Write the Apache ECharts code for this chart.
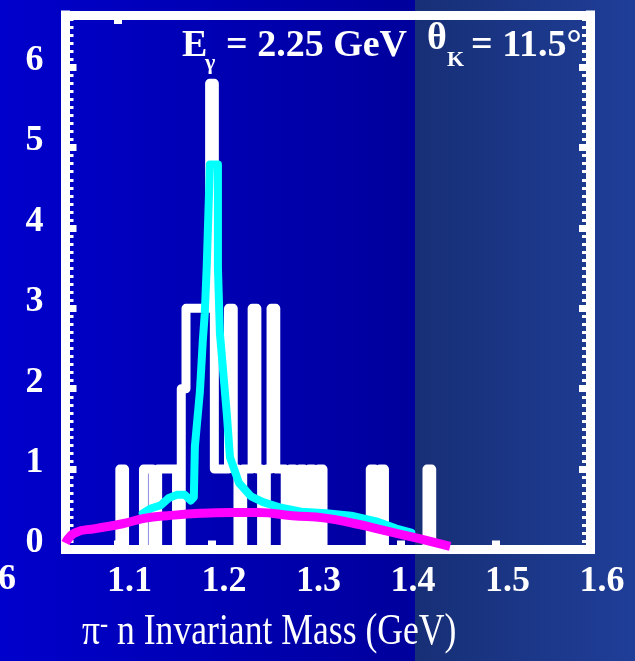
<!DOCTYPE html>
<html>
<head>
<meta charset="utf-8">
<script src="https://cdn.jsdelivr.net/npm/echarts@6.0.0/dist/echarts.min.js"></script>
<style>
  html, body { margin: 0; padding: 0; background: #0000b0; }
  #chart { width: 635px; height: 661px; }
</style>
</head>
<body>
<div id="chart"></div>
<script>
// x tick labels (GeV)
const xTicks = [1.1, 1.2, 1.3, 1.4, 1.5, 1.6];
const xTopTicks = [1.1];

// white data histogram, 5 MeV bins starting at histStart
const histStart = 1.0475;
const histBinWidth = 0.005;
const histCounts = [
  0, 0, 0, 0, 0, 0, 0, 0, 0, 0, 0,   // 1.0475 - 1.1025
  1,                                 // 1.1025
  0, 0, 0, 0,
  1, 1, 0, 1, 1, 1, 1, 0,            // 1.1275 - 1.1625
  2, 3, 3, 3, 3, 3,                  // 1.1675 - 1.1925
  5.8,                               // 1.1975
  1, 1, 1, 3, 1, 0, 1, 1, 3, 1, 0, 1, 3,
  1, 1, 0, 1, 0, 1, 0, 1, 0, 1,      // 1.2675 - 1.3125
  0, 0, 0, 0, 0, 0, 0, 0, 0, 0,
  1, 0, 1,                           // 1.3675 - 1.3775
  0, 0, 0, 0, 0, 0, 0, 0, 0,
  1,                                 // 1.4275
  0, 0, 0, 0
];

// cyan simulated line shape
const cyanMass  = [1.1267, 1.1352, 1.1458, 1.1543, 1.1628, 1.1713, 1.1776, 1.1808, 1.1819, 1.1872,
                   1.1903, 1.1924, 1.1945, 1.1978, 1.2063, 1.2063, 1.2084, 1.2158, 1.2190, 1.2285,
                   1.2413, 1.2540, 1.2731, 1.2943, 1.3208, 1.3473, 1.3738, 1.3950, 1.4109];
const cyanValue = [0.45, 0.51, 0.55, 0.64, 0.68, 0.68, 0.61, 0.65, 1.28, 1.96,
                   2.60, 2.94, 3.54, 4.79, 4.79, 3.50, 2.69, 1.67, 1.15, 0.83,
                   0.66, 0.59, 0.52, 0.47, 0.45, 0.42, 0.35, 0.26, 0.21];

// magenta phase-space curve
const magentaMass  = [1.045, 1.0556, 1.0767, 1.1053, 1.1296, 1.1529, 1.1878, 1.2195, 1.2491,
                      1.2851, 1.3200, 1.3517, 1.3707, 1.4066, 1.4278, 1.4520];
const magentaValue = [0.08, 0.21, 0.26, 0.32, 0.39, 0.42, 0.45, 0.46, 0.46,
                      0.42, 0.39, 0.32, 0.27, 0.17, 0.11, 0.04];

const serif = '"Liberation Serif", "DejaVu Serif", serif';

// build the outline of the histogram from the bin counts
const histPoints = [];
histCounts.forEach((c, k) => {
  const x0 = histStart + k * histBinWidth;
  histPoints.push([x0, c], [x0 + histBinWidth, c]);
});
const cyanPoints = cyanMass.map((m, i) => [m, cyanValue[i]]);
const magentaPoints = magentaMass.map((m, i) => [m, magentaValue[i]]);

const frameLine = { show: true, onZero: false, lineStyle: { color: '#fff', width: 9, cap: 'square' } };

const chart = echarts.init(document.getElementById('chart'));

const option = {
  animation: false,
  backgroundColor: 'transparent',
  grid: { left: 65.5, right: 45, top: 15, bottom: 111.5 },
  xAxis: [
    {
      type: 'value', position: 'bottom', min: 1.045, max: 1.6,
      axisLine: frameLine,
      axisTick: { show: true, inside: true, customValues: xTicks, length: 9, lineStyle: { color: '#fff', width: 8 } },
      axisLabel: {
        customValues: xTicks, color: '#fff', fontFamily: serif, fontWeight: 'bold', fontSize: 36,
        margin: 14, padding: [0, 0, 0, 24], formatter: v => v.toFixed(1)
      },
      splitLine: { show: false }
    },
    {
      type: 'value', position: 'top', min: 1.045, max: 1.6,
      axisLine: frameLine,
      axisTick: { show: true, inside: true, customValues: xTopTicks, length: 9, lineStyle: { color: '#fff', width: 8 } },
      axisLabel: { show: false }, splitLine: { show: false }
    }
  ],
  yAxis: [
    {
      type: 'value', position: 'left', min: 0, max: 6.65, interval: 1,
      axisLine: frameLine,
      axisTick: { show: true, inside: true, length: 11, lineStyle: { color: '#fff', width: 7 } },
      minorTick: { show: true, splitNumber: 10, length: 8, lineStyle: { color: '#fff', width: 3 } },
      axisLabel: {
        color: '#fff', fontFamily: serif, fontWeight: 'bold', fontSize: 36,
        margin: 22, showMaxLabel: false, verticalAlign: 'bottom', lineHeight: 13
      },
      splitLine: { show: false }
    },
    {
      type: 'value', position: 'right', min: 0, max: 6.65, interval: 1,
      axisLine: frameLine,
      axisTick: { show: true, inside: true, length: 11, lineStyle: { color: '#fff', width: 7 } },
      minorTick: { show: true, splitNumber: 10, length: 8, lineStyle: { color: '#fff', width: 3 } },
      axisLabel: { show: false },
      splitLine: { show: false }
    }
  ],
  series: [
    {
      name: 'data', type: 'line', data: histPoints, showSymbol: false, silent: true, z: 3,
      lineStyle: { color: '#ffffff', width: 9, join: 'round', cap: 'round' }
    },
    {
      name: 'sim', type: 'line', data: cyanPoints, showSymbol: false, silent: true, z: 4,
      lineStyle: { color: '#00ffff', width: 8, join: 'round', cap: 'round' }
    },
    {
      name: 'phase space', type: 'line', data: magentaPoints, showSymbol: false, silent: true, z: 5,
      smooth: true,
      lineStyle: { color: '#ff00ff', width: 9, join: 'round', cap: 'butt' }
    }
  ],
  graphic: {
    elements: [
      {
        type: 'rect', z: -100, silent: true,
        shape: { x: 0, y: 0, width: 635, height: 661 },
        style: {
          fill: new echarts.graphic.LinearGradient(0, 0, 1, 0, [
            { offset: 0, color: '#0000cc' },
            { offset: 0.653, color: '#00009c' },
            { offset: 0.654, color: '#172f76' },
            { offset: 1, color: '#1f3e98' }
          ])
        }
      },
      { type: 'text', x: 182, y: 46, style: { text: 'E', fill: '#fff', font: 'bold 38px ' + serif, verticalAlign: 'middle' } },
      { type: 'text', x: 205, y: 63, style: { text: 'γ', fill: '#fff', font: 'bold 22px ' + serif, verticalAlign: 'middle' } },
      { type: 'text', x: 226, y: 46, style: { text: '= 2.25 GeV', fill: '#fff', font: 'bold 38px ' + serif, verticalAlign: 'middle' } },
      { type: 'text', x: 427, y: 39, style: { text: 'θ', fill: '#fff', font: 'bold 38px ' + serif, verticalAlign: 'middle' } },
      { type: 'text', x: 447, y: 60, style: { text: 'K', fill: '#fff', font: 'bold 22px ' + serif, verticalAlign: 'middle' } },
      { type: 'text', x: 471, y: 46, style: { text: '= 11.5°', fill: '#fff', font: 'bold 38px ' + serif, verticalAlign: 'middle' } },
      { type: 'text', x: 16, y: 580, style: { text: '6', fill: '#fff', font: 'bold 36px ' + serif, align: 'right', verticalAlign: 'middle' } },
      {
        type: 'text', x: 82, y: 632, scaleX: 0.81,
        style: {
          text: '{a|π}{s|-}{a| n Invariant Mass (GeV)}',
          fill: '#fff', verticalAlign: 'middle',
          rich: {
            a: { fontFamily: serif, fontSize: 44, fill: '#fff' },
            s: { fontFamily: serif, fontSize: 30, fill: '#fff', verticalAlign: 'top' }
          }
        }
      }
    ]
  }
};

chart.setOption(option);
</script>
</body>
</html>
